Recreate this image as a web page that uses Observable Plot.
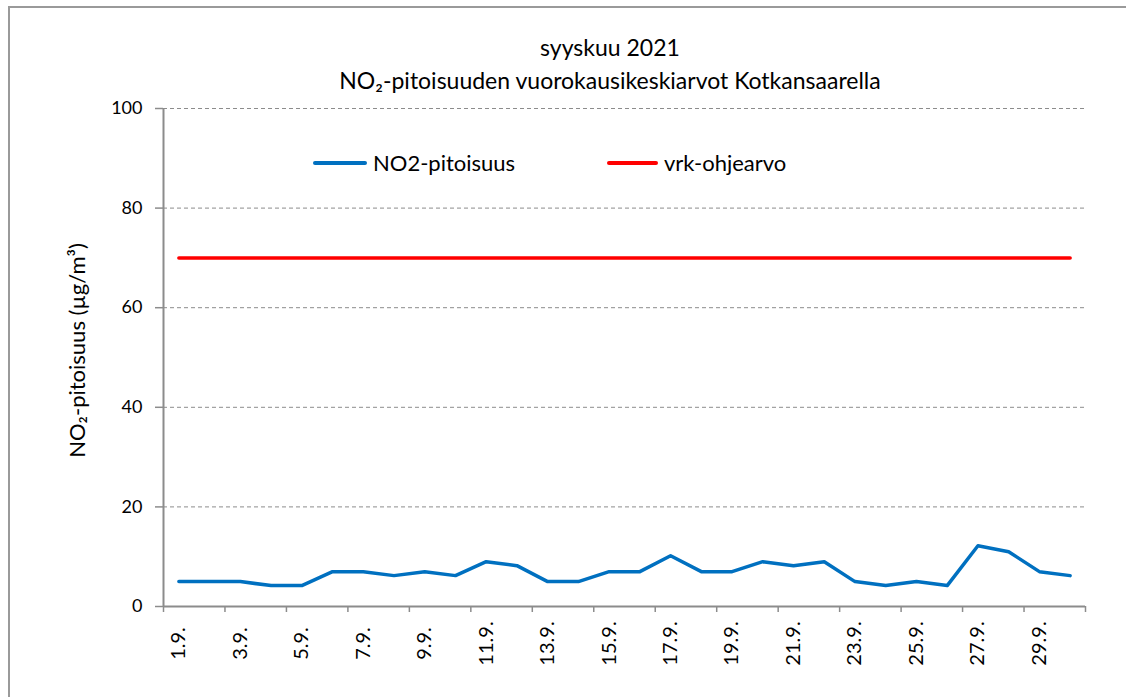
<!DOCTYPE html>
<html><head><meta charset="utf-8">
<script src="https://cdn.jsdelivr.net/npm/d3@7"></script>
<script src="https://cdn.jsdelivr.net/npm/@observablehq/plot@0.6"></script>
<style>
html,body{margin:0;padding:0;background:#fff;overflow:hidden;}
#wrap{position:relative;width:1126px;height:697px;font-family:Lato,"Open Sans",sans-serif;color:#000;overflow:hidden;}
#border{position:absolute;left:8px;top:6px;width:1200px;height:800px;border:2px solid #9a9a9a;box-sizing:border-box;}
#chart{position:absolute;left:0;top:0;}
.title{position:absolute;left:0;width:1220px;text-align:center;font-size:23px;line-height:26px;}
.leg{position:absolute;font-size:22px;line-height:26px;display:flex;align-items:center;}
.sw{display:inline-block;height:4px;border-radius:2px;margin-right:6px;}
</style></head>
<body>
<div id="wrap">
  <div id="border"></div>
  <div id="chart"></div>
  <div class="title" id="t1" style="top:34px"></div>
  <div class="title" id="t2" style="top:67px"></div>
  <div class="leg" style="left:313px;top:150px"><span class="sw" style="width:54px;background:#0070c0"></span><span id="l1"></span></div>
  <div class="leg" style="left:607px;top:150px"><span class="sw" style="width:51px;background:#ff0000"></span><span id="l2"></span></div>
</div>
<script>
const titleLines = ["syyskuu 2021", "NO₂-pitoisuuden vuorokausikeskiarvot Kotkansaarella"];
const seriesNames = ["NO2-pitoisuus", "vrk-ohjearvo"];
const yLabel = "NO₂-pitoisuus (µg/m³)";
const days = [1,2,3,4,5,6,7,8,9,10,11,12,13,14,15,16,17,18,19,20,21,22,23,24,25,26,27,28,29,30];
const no2 = [5,5,5,4.2,4.2,7,7,6.2,7,6.2,9,8.2,5,5,7,7,10.2,7,7,9,8.2,9,5,4.2,5,4.2,12.2,11,7,6.2];
const guideline = [70];
const yTicks = [0,20,40,60,80,100];
const xLabelDays = [1,3,5,7,9,11,13,15,17,19,21,23,25,27,29];

document.getElementById("t1").textContent = titleLines[0];
document.getElementById("t2").textContent = titleLines[1];
document.getElementById("l1").textContent = seriesNames[0];
document.getElementById("l2").textContent = seriesNames[1];

const data = days.map((d, i) => ({day: d, value: no2[i]}));
const limitData = days.map(d => ({day: d, value: guideline[0]}));
const xDomain = [days[0] - 0.5, days[days.length - 1] + 0.5];
const boundaries = days.filter((d, i) => i % 2 === 0).map(d => d - 0.5).concat([xDomain[1]]);
const axisColor = "#8c8c8c";

const chart = Plot.plot({
  width: 1126, height: 697,
  marginLeft: 163, marginRight: 41, marginTop: 108, marginBottom: 91,
  style: {fontFamily: "Lato, 'Open Sans', sans-serif", fontSize: "18px", color: "#000", background: "transparent", overflow: "visible"},
  x: {type: "linear", domain: xDomain},
  y: {domain: [yTicks[0], yTicks[yTicks.length - 1]]},
  marks: [
    Plot.gridY(yTicks.filter(v => v > 0), {stroke: axisColor, strokeOpacity: 1, strokeDasharray: "4,3", strokeWidth: 1}),
    Plot.axisY(yTicks, {tickSize: 8, tickPadding: 13, stroke: axisColor, strokeWidth: 1.5, fontSize: 18, label: null}),
    Plot.axisX(boundaries, {tickSize: 6, tickFormat: () => "", stroke: axisColor, strokeWidth: 1.5, label: null}),
    Plot.ruleX([xDomain[0]], {stroke: axisColor, strokeWidth: 2}),
    Plot.ruleY([yTicks[0]], {stroke: axisColor, strokeWidth: 2}),
    Plot.line(limitData, {x: "day", y: "value", stroke: "#ff0000", strokeWidth: 3.5}),
    Plot.line(data, {x: "day", y: "value", stroke: "#0070c0", strokeWidth: 3.5}),
    Plot.text(xLabelDays, {x: d => d, text: d => `${d}.9.`, frameAnchor: "bottom", rotate: -90, dy: 37, fontSize: 20, textAnchor: "middle", lineAnchor: "middle"}),
    Plot.text([yLabel], {frameAnchor: "left", rotate: -90, dx: -86, dy: -7, fontSize: 22, textAnchor: "middle", lineAnchor: "middle"})
  ]
});
document.getElementById("chart").appendChild(chart);
</script>
</body></html>
